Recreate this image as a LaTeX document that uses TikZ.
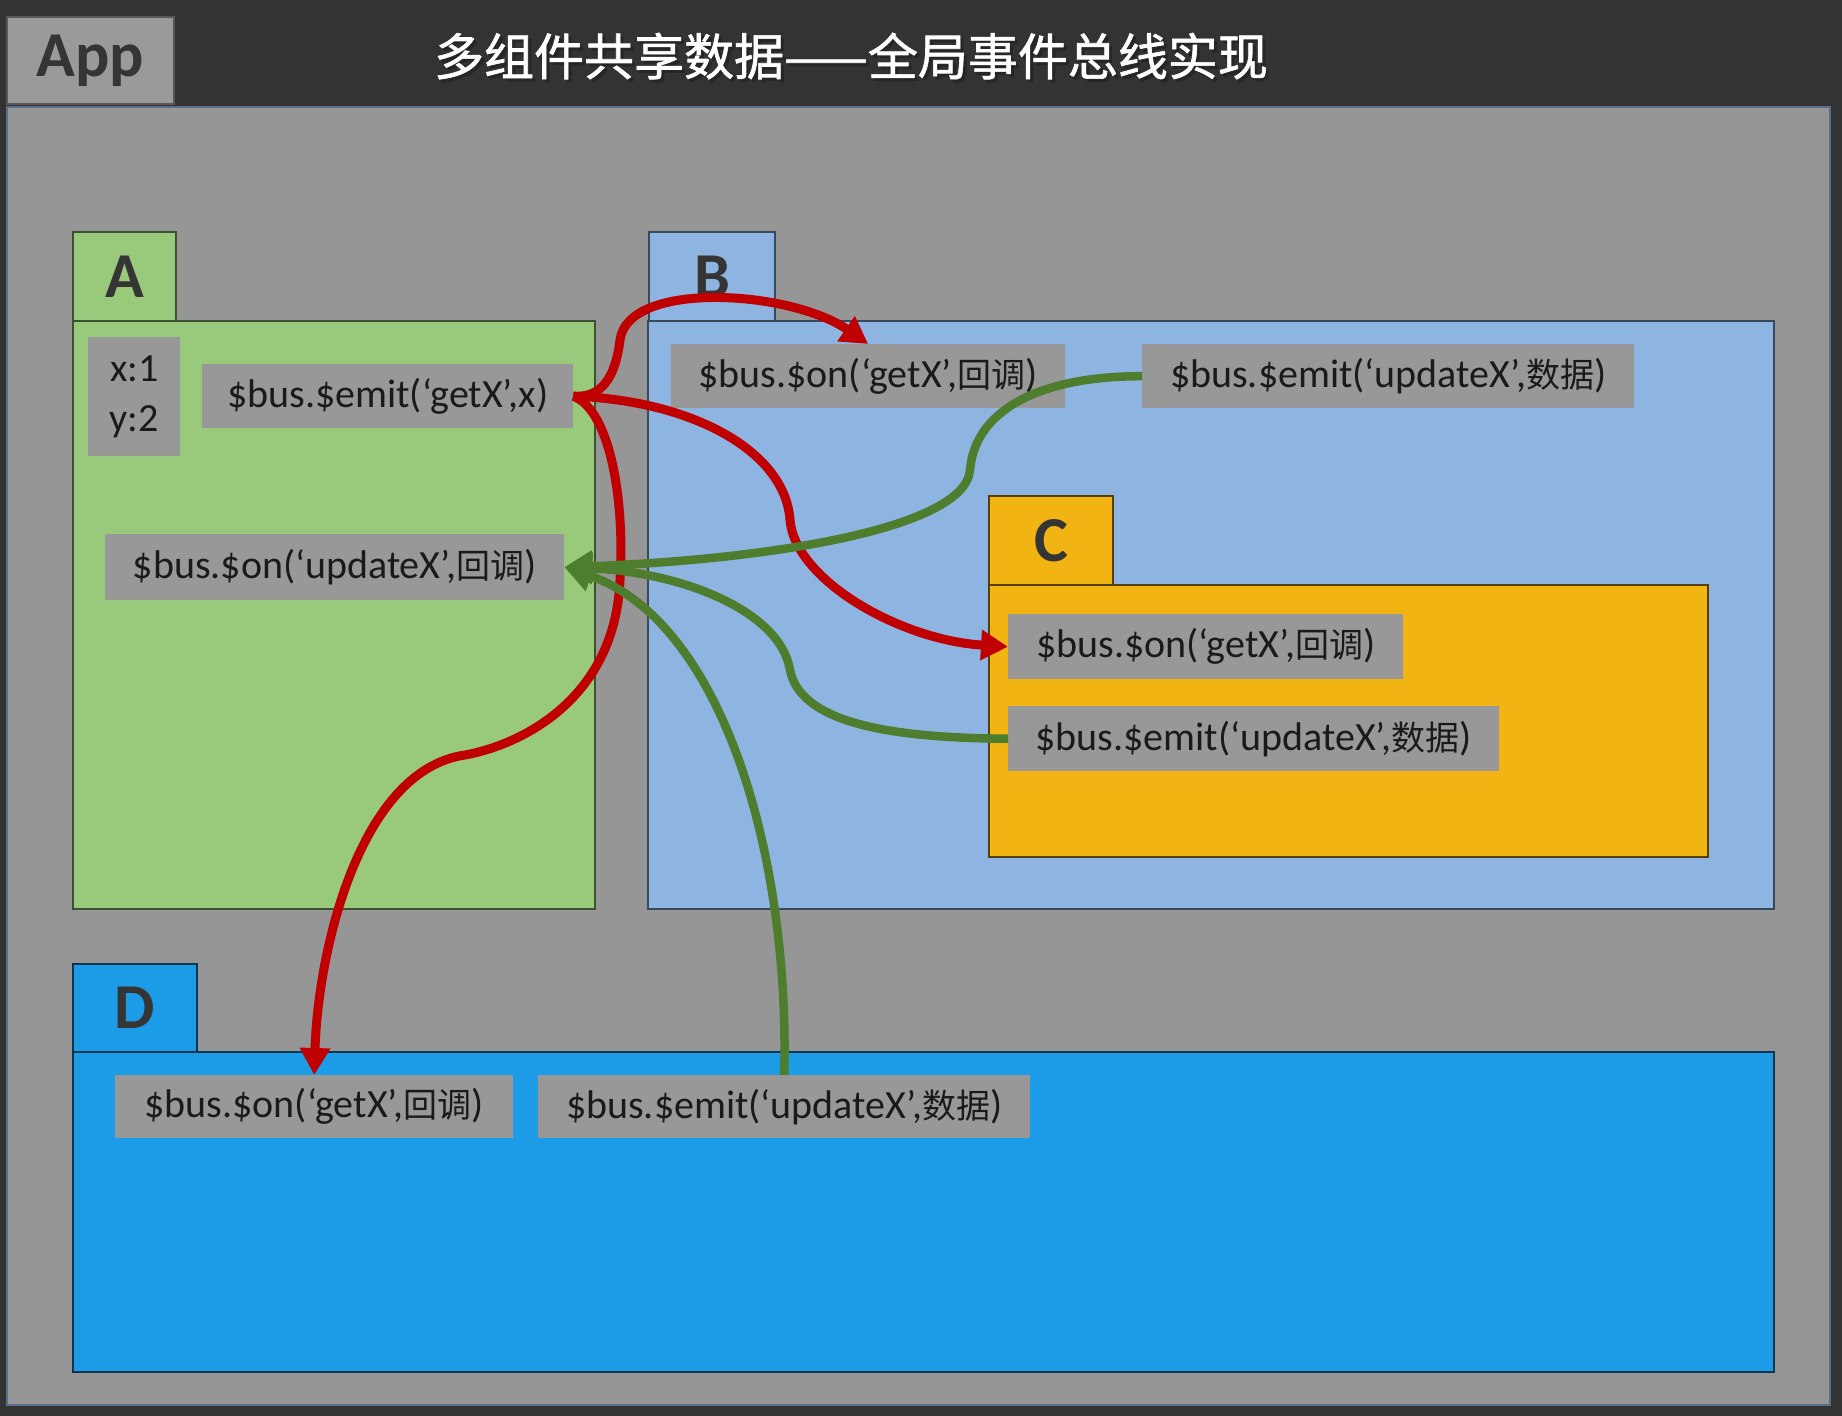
\documentclass[tikz,border=0pt]{standalone}
\usepackage{fontspec}
\setmainfont{Carlito}
\newfontfamily\cjk{Noto Sans CJK SC}[Scale=0.85]
\newfontfamily\cjktitle{Noto Sans CJK SC}[FakeBold=1.2]
\usetikzlibrary{arrows.meta}
\definecolor{bgdark}{HTML}{333333}
\definecolor{appgray}{HTML}{969696}
\definecolor{tabgray}{HTML}{9A9A9A}
\definecolor{appborder}{HTML}{5A6E8C}
\definecolor{panelborder}{HTML}{454545}
\definecolor{boxgray}{HTML}{989898}
\definecolor{Agreen}{HTML}{99CA7C}
\definecolor{Bblue}{HTML}{8EB4E2}
\definecolor{Cgold}{HTML}{F1B412}
\definecolor{Dblue}{HTML}{1C9BE6}
\definecolor{labelgray}{HTML}{353535}
\definecolor{codetext}{HTML}{1A1A1A}
\definecolor{arrowred}{HTML}{C00000}
\definecolor{arrowgreen}{HTML}{4E7D2E}
\tikzset{
  panel/.style={line width=2pt, anchor=north west, inner sep=0pt},
  tabtxt/.style={font=\fontsize{64pt}{64pt}\selectfont\bfseries, text=labelgray},
  codebox/.style={fill=boxgray, anchor=north west, inner sep=0pt, font=\fontsize{40pt}{50pt}\selectfont, text=codetext},
  redarrow/.style={draw=arrowred, line width=9pt, -{Triangle[length=27pt,width=29pt]}},
  greenarrow/.style={draw=arrowgreen, line width=8.5pt, -{Triangle[length=28pt,width=30pt]}}
}
\begin{document}
\begin{tikzpicture}[x=1pt,y=-1pt]
\useasboundingbox (0,0) rectangle (1842,1416);
\fill[bgdark] (0,0) rectangle (1842,1416);
% App
\node[panel, fill=tabgray, draw=panelborder!70!gray, minimum width=167pt, minimum height=87pt,
      font=\fontsize{64pt}{64pt}\selectfont\bfseries, text=labelgray] (apptab) at (6,16) {App};
\node[panel, fill=appgray, draw=appborder, minimum width=1823pt, minimum height=1298pt] (app) at (6,106) {};
% title
\node[font=\cjktitle\fontsize{50pt}{50pt}\selectfont, text=black!85] (titleshadow) at (854,59) {多组件共享数据——全局事件总线实现};
\node[font=\cjktitle\fontsize{50pt}{50pt}\selectfont, text=white] (title) at (851,56) {多组件共享数据——全局事件总线实现};
% A
\node[panel, fill=Agreen, draw=Agreen!40!black, minimum width=522pt, minimum height=588pt] (Abody) at (72,320) {};
\node[panel, fill=Agreen, draw=Agreen!40!black, minimum width=103pt, minimum height=89pt, tabtxt] (Atab) at (72,231) {A};
% B
\node[panel, fill=Bblue, draw=Bblue!40!black, minimum width=1126pt, minimum height=588pt] (Bbody) at (647,320) {};
\node[panel, fill=Bblue, draw=Bblue!40!black, minimum width=126pt, minimum height=89pt, tabtxt] (Btab) at (648,231) {B};
% C
\node[panel, fill=Cgold, draw=Cgold!35!black, minimum width=719pt, minimum height=272pt] (Cbody) at (988,584) {};
\node[panel, fill=Cgold, draw=Cgold!35!black, minimum width=124pt, minimum height=89pt, tabtxt] (Ctab) at (988,495) {C};
% D
\node[panel, fill=Dblue, draw=Dblue!35!black, minimum width=1701pt, minimum height=320pt] (Dbody) at (72,1051) {};
\node[panel, fill=Dblue, draw=Dblue!35!black, minimum width=124pt, minimum height=88pt, tabtxt] (Dtab) at (72,963) {D};
% code boxes
\node[codebox, minimum width=92pt, minimum height=119pt, align=center] (Axy) at (88,337) {x:1\\y:2};
\node[codebox, minimum width=371pt, minimum height=64pt] (Aemit) at (202,364) {\$bus.\$emit(‘getX’,x)};
\node[codebox, minimum width=459pt, minimum height=66pt] (Aon) at (105,534) {\$bus.\$on(‘updateX’,{\cjk 回调})};
\node[codebox, minimum width=394pt, minimum height=64pt] (Bon) at (671,344) {\$bus.\$on(‘getX’,{\cjk 回调})};
\node[codebox, minimum width=492pt, minimum height=64pt] (Bemit) at (1142,344) {\$bus.\$emit(‘updateX’,{\cjk 数据})};
\node[codebox, minimum width=395pt, minimum height=65pt] (Con) at (1008,614) {\$bus.\$on(‘getX’,{\cjk 回调})};
\node[codebox, minimum width=491pt, minimum height=65pt] (Cemit) at (1008,706) {\$bus.\$emit(‘updateX’,{\cjk 数据})};
\node[codebox, minimum width=398pt, minimum height=63pt] (Don) at (115,1075) {\$bus.\$on(‘getX’,{\cjk 回调})};
\node[codebox, minimum width=492pt, minimum height=63pt] (Demit) at (538,1075) {\$bus.\$emit(‘updateX’,{\cjk 数据})};
% red connectors
\draw[redarrow] (Aemit.east) .. controls (600,398) and (615,380) .. (620,340)
                .. controls (628,280) and (790,290) .. (Bon.north);
\draw[redarrow] (Aemit.east) .. controls (690,400) and (785,450) .. (790,520)
                .. controls (795,580) and (900,640) .. (Con.west);
\draw[redarrow] (Aemit.east) .. controls (610,410) and (625,500) .. (620,580)
                .. controls (615,700) and (520,745) .. (465,755)
                .. controls (360,770) and (318,950) .. (Don.north);
% green connectors
\draw[greenarrow] (Bemit.west) .. controls (1040,376) and (975,410) .. (970,470)
                  .. controls (965,530) and (760,560) .. (Aon.east);
\draw[greenarrow] (Cemit.west) .. controls (880,738) and (800,720) .. (790,670)
                  .. controls (780,610) and (680,572) .. (Aon.east);
\draw[greenarrow] (Demit.north) .. controls (790,850) and (720,620) .. (Aon.east);
\end{tikzpicture}
\end{document}
